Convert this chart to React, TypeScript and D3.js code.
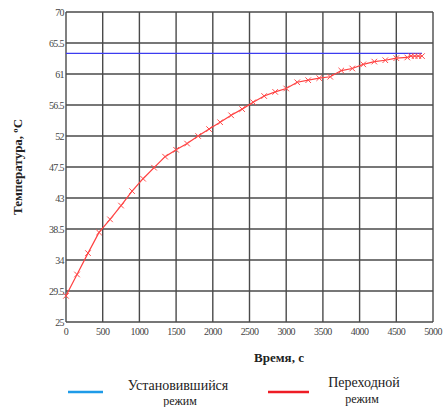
import React, { useEffect, useRef } from "react";
import * as d3 from "d3";

// Time, s and temperature, °C (transient mode)
const times = [0, 150, 300, 450, 600, 750, 900, 1050, 1200, 1350, 1500, 1650, 1800, 1950, 2100, 2250, 2400, 2550, 2700, 2850, 3000, 3150, 3300, 3450, 3600, 3750, 3900, 4050, 4200, 4350, 4500, 4650, 4700, 4750, 4800, 4850];
const temps = [28.8, 31.9, 35.0, 38.0, 39.9, 41.9, 44.0, 45.8, 47.4, 49.0, 50.0, 50.9, 52.0, 53.0, 54.0, 55.0, 55.9, 56.9, 57.8, 58.4, 58.9, 59.8, 60.1, 60.4, 60.6, 61.5, 61.8, 62.4, 62.8, 63.0, 63.3, 63.4, 63.6, 63.6, 63.6, 63.6];
// steady-state level
const steadyTemp = 64.0;
const steadyTimes = [0, 4850];

const yTicks = [25, 29.5, 34, 38.5, 43, 47.5, 52, 56.5, 61, 65.5, 70];
const xTicks = [0, 500, 1000, 1500, 2000, 2500, 3000, 3500, 4000, 4500, 5000];

const App = () => {
  const ref = useRef<SVGSVGElement>(null);

  useEffect(() => {
    const svg = d3.select(ref.current);
    svg.selectAll("*").remove();

    const left = 66, right = 433, top = 12, bottom = 322;
    const x = d3.scaleLinear().domain([0, 5000]).range([left, right]);
    const y = d3.scaleLinear().domain([25, 70]).range([bottom, top]);
    const font = "Liberation Serif, DejaVu Serif, serif";

    // grid
    const grid = svg.append("g").attr("stroke", "#4a4a4a").attr("stroke-width", 1.4);
    grid.selectAll(".gx").data(xTicks).enter().append("line")
      .attr("x1", (d) => x(d)).attr("x2", (d) => x(d))
      .attr("y1", top).attr("y2", bottom);
    grid.selectAll(".gy").data(yTicks).enter().append("line")
      .attr("x1", left).attr("x2", right)
      .attr("y1", (d) => y(d)).attr("y2", (d) => y(d));

    // tick labels
    svg.append("g").selectAll("text").data(yTicks).enter().append("text")
      .attr("x", left - 2).attr("y", (d) => y(d) + 3.5)
      .attr("text-anchor", "end")
      .style("font-family", font).style("font-size", "10px").style("letter-spacing", "-0.6px")
      .attr("fill", "#444")
      .text((d) => String(d));
    svg.append("g").selectAll("text").data(xTicks).enter().append("text")
      .attr("x", (d) => x(d)).attr("y", bottom + 13)
      .attr("text-anchor", "middle")
      .style("font-family", font).style("font-size", "10px").style("letter-spacing", "-0.6px")
      .attr("fill", "#444")
      .text((d) => String(d));

    // steady line
    svg.append("line")
      .attr("x1", x(steadyTimes[0])).attr("x2", x(steadyTimes[1]))
      .attr("y1", y(steadyTemp)).attr("y2", y(steadyTemp))
      .attr("stroke", "#3c3cf0").attr("stroke-width", 1.3);

    // transient curve
    const pts = times.map((t, i) => [t, temps[i]] as [number, number]);
    svg.append("path")
      .datum(pts)
      .attr("fill", "none")
      .attr("stroke", "#ff4040")
      .attr("stroke-width", 1.2)
      .attr("d", d3.line<[number, number]>().x((d) => x(d[0])).y((d) => y(d[1])));

    const cross = d3.symbol().type(d3.symbolX).size(22);
    svg.append("g").selectAll("path").data(pts).enter().append("path")
      .attr("transform", (d) => `translate(${x(d[0])},${y(d[1])})`)
      .attr("d", cross())
      .attr("fill", "none")
      .attr("stroke", "#ff4a4a")
      .attr("stroke-width", 1);

    // axis titles
    svg.append("text")
      .attr("transform", `translate(22,${(top + bottom) / 2}) rotate(-90)`)
      .attr("text-anchor", "middle")
      .style("font-family", font).style("font-size", "13px").style("font-weight", "bold")
      .attr("fill", "#222")
      .text("Температура,  ºC");
    svg.append("text")
      .attr("x", 279).attr("y", 362)
      .attr("text-anchor", "middle")
      .style("font-family", font).style("font-size", "13px").style("font-weight", "bold")
      .attr("fill", "#222")
      .text("Время, с");

    // legend
    const legend = svg.append("g").style("font-family", font).style("font-size", "14px").attr("fill", "#222");
    legend.append("line").attr("x1", 68).attr("x2", 103).attr("y1", 392).attr("y2", 392)
      .attr("stroke", "#1e9be8").attr("stroke-width", 2.5);
    legend.append("text").attr("x", 178).attr("y", 390).attr("text-anchor", "middle").text("Установившийся");
    legend.append("text").attr("x", 180).attr("y", 405).attr("text-anchor", "middle").style("font-size", "12px").text("режим");
    legend.append("line").attr("x1", 268).attr("x2", 309).attr("y1", 392).attr("y2", 392)
      .attr("stroke", "#ee1c25").attr("stroke-width", 2.5);
    legend.append("text").attr("x", 364).attr("y", 387).attr("text-anchor", "middle").text("Переходной");
    legend.append("text").attr("x", 362).attr("y", 403).attr("text-anchor", "middle").style("font-size", "12px").text("режим");
  }, []);

  return (
    <svg
      ref={ref}
      width={444}
      height={407}
      style={{ position: "absolute", left: 0, top: 0, background: "#fff" }}
    />
  );
};

export default App;
